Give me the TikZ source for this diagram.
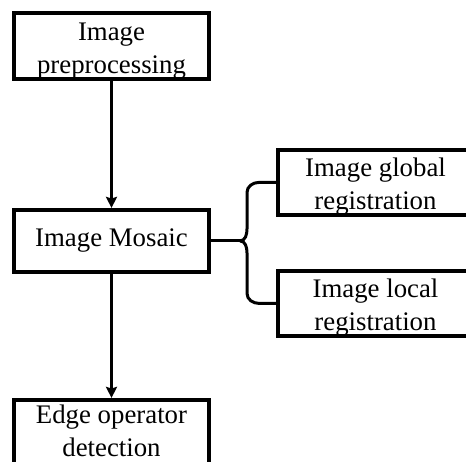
\documentclass[tikz,border=0pt]{standalone}
\usepackage{fontspec}
\setmainfont{Liberation Serif}
\usetikzlibrary{arrows.meta, positioning, calc}

\begin{document}
\begin{tikzpicture}[
      x=0.5pt, y=-0.5pt,
      box/.style={rectangle, draw=black, line width=2pt,
        minimum width=97.5pt, minimum height=31pt, inner sep=0pt,
        align=center, font=\fontsize{13.4}{16.5}\selectfont},
      dosl/.style={box, text height=30pt, text depth=2.9pt},
      flecha/.style={-{Stealth[length=5.5pt, width=5.5pt, inset=0.8pt]}, line width=1.5pt},
      llave/.style={line width=1.5pt}
    ]
      \useasboundingbox (0,0) rectangle (466,461);

      \node[dosl] (prep) at (111.5,46) {Image\\preprocessing};
      \node[box, below=63.5pt of prep] (mosaic) {Image Mosaic};
      \node[dosl, below=62pt of mosaic, text height=28.5pt, text depth=5pt] (edge) {Edge operator\\detection};
      \node[dosl, right=32.5pt of mosaic, yshift=29.25pt] (glob) {Image global\\registration};
      \node[dosl, right=32.5pt of mosaic, yshift=-31.25pt] (loc) {Image local\\registration};

      \draw[flecha] (prep) -- (mosaic);
      \draw[flecha] (mosaic) -- (edge);

      % brace from the mosaic box to both registration boxes
      \path (mosaic.east) ++(18pt,0pt) coordinate (bar);
      \coordinate (tip) at ([xshift=-3.5pt]bar);
      \draw[llave] (mosaic.east) -- (tip);
      \draw[llave] (tip) to[out=0, in=-90] ([yshift=6pt]bar)
        -- ($(bar |- glob.west)+(0pt,-5pt)$)
        to[out=90, in=180] ($(bar |- glob.west)+(6pt,0pt)$) -- (glob.west);
      \draw[llave] (tip) to[out=0, in=90] ([yshift=-6pt]bar)
        -- ($(bar |- loc.west)+(0pt,5pt)$)
        to[out=-90, in=180] ($(bar |- loc.west)+(6pt,0pt)$) -- (loc.west);
    \end{tikzpicture}
\end{document}
